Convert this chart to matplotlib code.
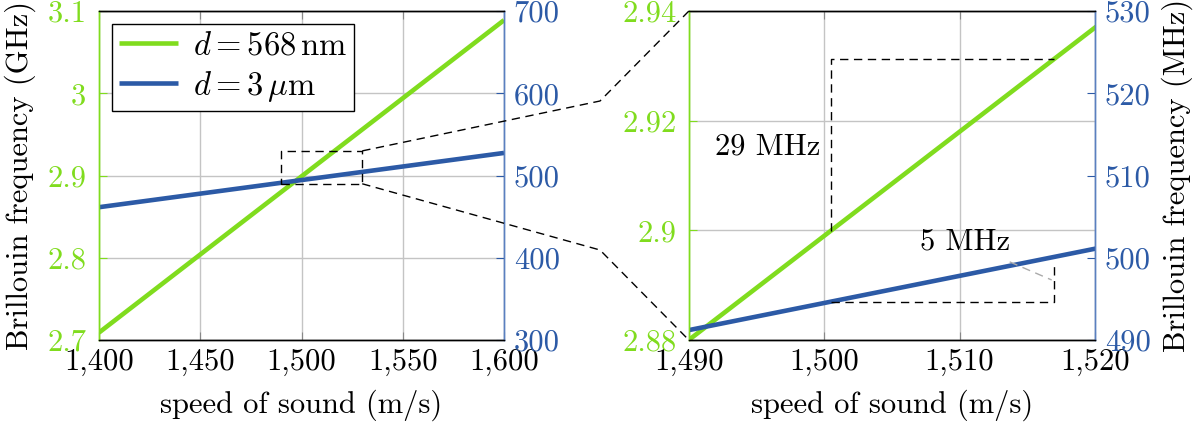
import matplotlib
matplotlib.use("Agg")
import matplotlib.pyplot as plt
import numpy as np
from matplotlib.lines import Line2D
from matplotlib.ticker import FuncFormatter

plt.rcParams['font.family'] = ['cmr10', 'DejaVu Sans']
plt.rcParams['mathtext.fontset'] = 'cm'
plt.rcParams['axes.unicode_minus'] = False
plt.rcParams['axes.formatter.use_mathtext'] = True

# ---- data ----
speed = [1400, 1450, 1500, 1550, 1600]            # m/s
f_568nm = [2.709, 2.804, 2.899, 2.994, 3.089]     # GHz
f_3um = [461.5, 478.0, 494.5, 511.0, 527.5]       # MHz

left_xticks = [1400, 1450, 1500, 1550, 1600]
left_yticks = [2.7, 2.8, 2.9, 3.0, 3.1]
left_y2ticks = [300, 400, 500, 600, 700]
right_xticks = [1490, 1500, 1510, 1520]
right_yticks = [2.88, 2.90, 2.92, 2.94]
right_y2ticks = [490, 500, 510, 520, 530]

label_568 = r'$d = 568\,\mathrm{nm}$'
label_3um = r'$d = 3\,\mu\mathrm{m}$'

GREEN = '#80DC1E'
BLUE = '#2C5AA6'
GRID = '#C4C4C4'
FS = 22

fig = plt.figure(figsize=(12, 4.26), dpi=100)
ax1 = fig.add_axes([0.0825, 0.2019, 0.3375, 0.772])
ax2 = fig.add_axes([0.574, 0.2019, 0.3385, 0.772])

def comma(x, pos):
    return f'{int(round(x)):,}'

def gfmt(x, pos):
    s = f'{x:.2f}'.rstrip('0').rstrip('.')
    return s

def style(ax, axb, xt, yt, y2t, xlim, ylim, y2lim):
    ax.set_xlim(*xlim); ax.set_ylim(*ylim); axb.set_ylim(*y2lim)
    ax.set_xticks(xt); ax.set_yticks(yt); axb.set_yticks(y2t)
    ax.xaxis.set_major_formatter(FuncFormatter(comma))
    ax.yaxis.set_major_formatter(FuncFormatter(gfmt))
    axb.yaxis.set_major_formatter(FuncFormatter(lambda x, p: f'{int(round(x))}'))
    ax.grid(True, color=GRID, lw=1.0)
    ax.set_axisbelow(True)
    ax.tick_params(axis='x', direction='in', length=6, top=True, colors='black',
                   labelsize=FS, pad=6, color='#888888')
    ax.tick_params(axis='y', direction='in', length=6, color=GREEN,
                   labelcolor=GREEN, labelsize=FS, pad=9)
    axb.tick_params(axis='y', direction='in', length=6, color=BLUE,
                    labelcolor=BLUE, labelsize=FS, pad=7)
    for a in (ax, axb):
        a.spines['left'].set_color(GREEN)
        a.spines['right'].set_color('#5A80C0')
        a.spines['top'].set_color('black')
        a.spines['bottom'].set_color('black')
        for s in a.spines.values():
            s.set_linewidth(1.0)
    ax.set_xlabel('speed of sound (m/s)', fontsize=FS, labelpad=10)

# left panel
ax1b = ax1.twinx()
l1, = ax1.plot(speed, f_568nm, color=GREEN, lw=3.3, label=label_568, solid_capstyle='butt')
l2, = ax1b.plot(speed, f_3um, color=BLUE, lw=3.3, label=label_3um, solid_capstyle='butt')
style(ax1, ax1b, left_xticks, left_yticks, left_y2ticks, (1400, 1600), (2.7, 3.1), (300, 700))
ax1.set_ylabel('Brillouin frequency (GHz)', fontsize=FS, labelpad=8)
leg = ax1b.legend([l1, l2], [label_568, label_3um], loc='upper left', fontsize=23.5,
                  frameon=True, fancybox=False, edgecolor='black', framealpha=1,
                  handlelength=1.8, borderaxespad=0.4, borderpad=0.22,
                  labelspacing=0.25, handletextpad=0.45)
leg.get_frame().set_linewidth(1.0)

# zoom box on left panel (blue-axis coordinates)
bx0, bx1, by0, by1 = 1490, 1530, 490, 530
ax1b.plot([bx0, bx1, bx1, bx0, bx0], [by0, by0, by1, by1, by0], color='black',
          lw=1.0, dashes=(6, 4))

# right panel
ax2b = ax2.twinx()
ax2.plot(speed, f_568nm, color=GREEN, lw=3.3, solid_capstyle='butt')
ax2b.plot(speed, f_3um, color=BLUE, lw=3.3, solid_capstyle='butt')
style(ax2, ax2b, right_xticks, right_yticks, right_y2ticks, (1490, 1520), (2.88, 2.94), (490, 530))
ax2b.set_ylabel('Brillouin frequency (MHz)', fontsize=FS, labelpad=8)

# slope triangles
xa, xb = 1500.5, 1517.0
ga, gb = np.interp([xa, xb], speed, f_568nm)
ax2.plot([xa, xa, xb], [ga, gb, gb], color='black', lw=1.0, dashes=(6, 4))
ba, bb = np.interp([xa, xb], speed, f_3um)
ax2b.plot([xa, xb, xb], [ba, ba, bb - 0.8], color='black', lw=1.0, dashes=(6, 4))
ax2b.plot([1513.7, 1516.8], [499.5, 497.3], color='#AAAAAA', lw=1.0, dashes=(6, 4))
ax2.text(1495.85, 2.9153, '29 MHz', fontsize=FS, ha='center', va='center')
ax2b.text(1510.4, 501.95, '5 MHz', fontsize=FS, ha='center', va='center')

# connecting lines
fig.canvas.draw()
inv = fig.transFigure.inverted()
p_top = inv.transform(ax1b.transData.transform((bx1, by1)))
p_bot = inv.transform(ax1b.transData.transform((bx1, by0)))
q_top = inv.transform(ax2.transAxes.transform((0, 1)))
q_bot = inv.transform(ax2.transAxes.transform((0, 0)))
m_top = (0.5, 1 - 101 / 426)
m_bot = (0.5, 1 - 250 / 426)
for p, m, q in ((p_top, m_top, q_top), (p_bot, m_bot, q_bot)):
    fig.add_artist(Line2D([p[0], m[0], q[0]], [p[1], m[1], q[1]],
                          transform=fig.transFigure, color='black', lw=1.0,
                          dashes=(6, 4)))

fig.savefig('out.png', dpi=100)
